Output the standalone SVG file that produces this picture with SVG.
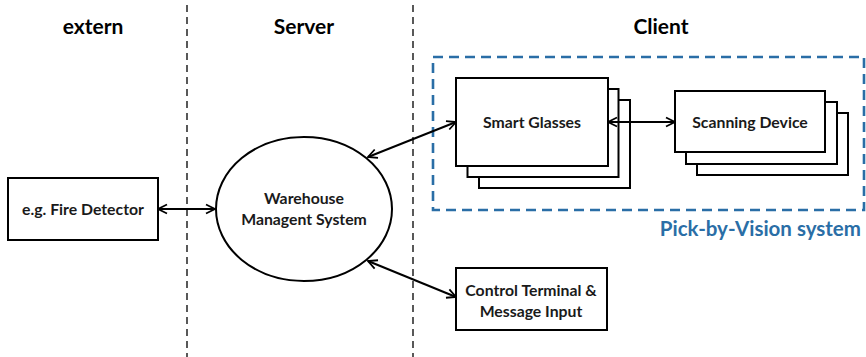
<svg xmlns="http://www.w3.org/2000/svg" width="866" height="357" viewBox="0 0 866 357">
  <style>
    .box { fill: #ffffff; stroke: #000000; stroke-width: 2; }
    .lbl { font-family: Lato, "Liberation Sans", sans-serif; font-weight: bold; font-size: 15.8px; fill: #1a1a1a; text-anchor: middle; }
    .hdr { font-family: Lato, "Liberation Sans", sans-serif; font-weight: bold; font-size: 21px; fill: #000000; text-anchor: middle; }
    .lane { stroke: #000000; stroke-width: 1.3; stroke-dasharray: 7 5; fill: none; }
    .link { stroke: #000000; stroke-width: 2; fill: none; marker-start: url(#arrow); marker-end: url(#arrow); }
  </style>
  <defs>
    <marker id="arrow" viewBox="0 0 12 12" refX="11" refY="6" markerWidth="12" markerHeight="12" markerUnits="userSpaceOnUse" orient="auto-start-reverse">
      <polyline points="2,1.5 11,6 2,10.5" fill="none" stroke="#000000" stroke-width="1.8"/>
    </marker>
  </defs>
  <rect width="866" height="357" fill="#ffffff"/>

  <!-- swimlane separators and headings -->
  <g id="lanes">
    <line class="lane" x1="187" y1="5" x2="187" y2="357"/>
    <line class="lane" x1="413" y1="5" x2="413" y2="357"/>
    <text class="hdr" x="93" y="34">extern</text>
    <text class="hdr" x="304" y="34">Server</text>
    <text class="hdr" x="661" y="34">Client</text>
  </g>

  <!-- Pick-by-Vision boundary -->
  <g id="pick-by-vision">
    <rect x="433" y="57" width="431" height="153" fill="none" stroke="#2a6ea6" stroke-width="2.6" stroke-dasharray="10 6"/>
    <text x="861" y="236" font-family="Lato, 'Liberation Sans', sans-serif" font-weight="bold" font-size="20.5px" fill="#2a6ea6" text-anchor="end">Pick-by-Vision system</text>
  </g>

  <g id="fire-detector">
    <rect class="box" x="8" y="178" width="150" height="62"/>
    <text class="lbl" x="83" y="215">e.g. Fire Detector</text>
  </g>

  <g id="wms">
    <ellipse class="box" cx="304" cy="209" rx="88" ry="72"/>
    <text class="lbl" x="304" y="204">Warehouse</text>
    <text class="lbl" x="304" y="225">Managent System</text>
  </g>

  <g id="smart-glasses">
    <rect class="box" x="479" y="100" width="151" height="88"/>
    <rect class="box" x="467.5" y="89" width="151" height="88"/>
    <rect class="box" x="456" y="78" width="152" height="88"/>
    <text class="lbl" x="532" y="128">Smart Glasses</text>
  </g>

  <g id="scanning-device">
    <rect class="box" x="697" y="113" width="151" height="62"/>
    <rect class="box" x="686" y="102" width="151" height="62"/>
    <rect class="box" x="675" y="91" width="150" height="61"/>
    <text class="lbl" x="750" y="128">Scanning Device</text>
  </g>

  <g id="control-terminal">
    <rect class="box" x="456" y="268" width="151" height="62"/>
    <text class="lbl" x="531" y="296">Control Terminal &amp;</text>
    <text class="lbl" x="531" y="317">Message Input</text>
  </g>

  <g id="connectors">
    <line class="link" x1="158" y1="209" x2="215" y2="209"/>
    <line class="link" x1="368" y1="157" x2="456" y2="122"/>
    <line class="link" x1="368" y1="261" x2="456" y2="297"/>
    <line class="link" x1="608" y1="122" x2="675" y2="122"/>
  </g>
</svg>
